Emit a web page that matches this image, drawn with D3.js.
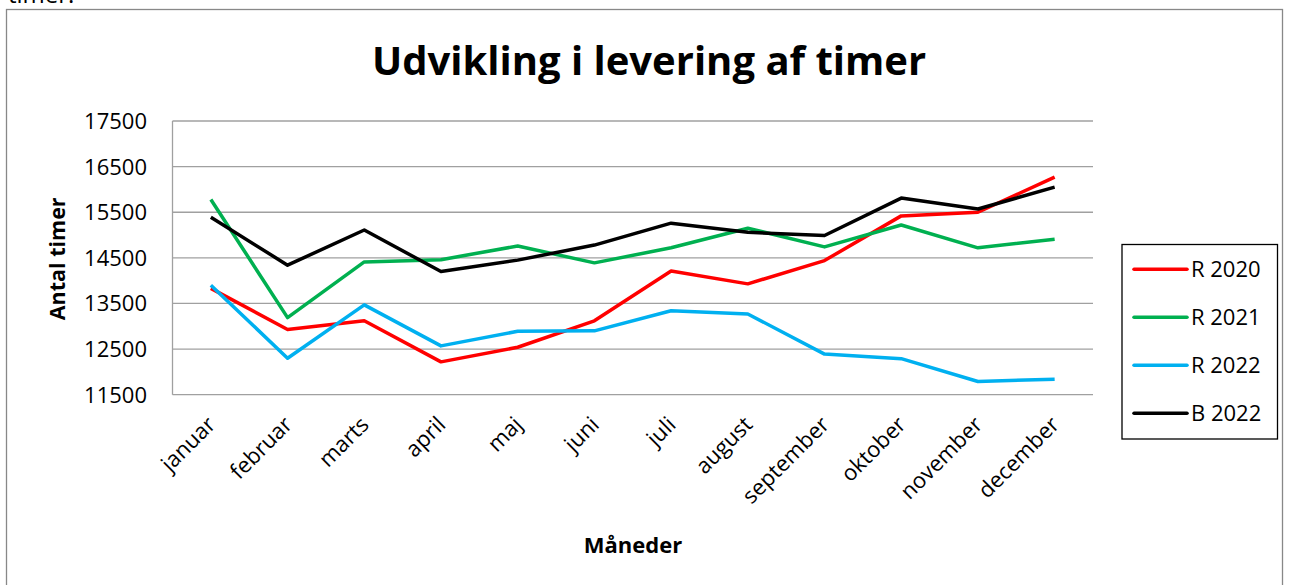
<!DOCTYPE html>
<html>
<head>
<meta charset="utf-8">
<script src="https://cdn.jsdelivr.net/npm/d3@7"></script>
<style>
  body { margin: 0; background: #fff; }
  text { font-family: "Open Sans", "DejaVu Sans", sans-serif; fill: #000; }
</style>
</head>
<body>
<svg id="chart" width="1292" height="585"></svg>
<script>
const months = ["januar","februar","marts","april","maj","juni","juli","august","september","oktober","november","december"]
const r2020 = [13830, 12930, 13120, 12220, 12540, 13120, 14210, 13930, 14440, 15420, 15500, 16270]
const r2021 = [15780, 13190, 14410, 14460, 14760, 14390, 14720, 15150, 14740, 15220, 14720, 14910]
const r2022 = [13900, 12300, 13470, 12570, 12890, 12900, 13340, 13270, 12390, 12290, 11790, 11840]
const b2022 = [15390, 14340, 15110, 14200, 14450, 14780, 15260, 15060, 14990, 15810, 15570, 16050]
const yTicks = [11500, 12500, 13500, 14500, 15500, 16500, 17500]

const series = [
  {name: "R 2020", values: r2020, color: "#ff0000"},
  {name: "R 2021", values: r2021, color: "#00b050"},
  {name: "R 2022", values: r2022, color: "#00b0f0"},
  {name: "B 2022", values: b2022, color: "#000000"}
]

const svg = d3.select("#chart")
const margin = {top: 121, left: 172.5, right: 1093, bottom: 394.7}

// outer frame (cut off at bottom)
svg.append("rect").attr("x", 6.5).attr("y", 9.5).attr("width", 1276).attr("height", 600)
   .attr("fill", "none").attr("stroke", "#888").attr("stroke-width", 1.3)

// leftover text from the page above
svg.append("text").text("timer.").attr("x", 8).attr("y", 3).style("font-size", "24px")

svg.append("text").text("Udvikling i levering af timer")
   .attr("x", 649).attr("y", 75).attr("text-anchor", "middle")
   .style("font-size", "40px").style("font-weight", "bold")

const x = d3.scalePoint().domain(months).range([margin.left, margin.right]).padding(0.5)
const y = d3.scaleLinear().domain([11500, 17500]).range([margin.bottom, margin.top])

// gridlines
svg.append("g").selectAll("line").data(yTicks).join("line")
   .attr("x1", margin.left).attr("x2", margin.right)
   .attr("y1", d => y(d)).attr("y2", d => y(d))
   .attr("stroke", "#a0a0a0").attr("stroke-width", 1.3)

svg.append("line").attr("x1", margin.left).attr("x2", margin.left)
   .attr("y1", margin.top).attr("y2", margin.bottom)
   .attr("stroke", "#a0a0a0").attr("stroke-width", 1.3)

// y tick labels
svg.append("g").selectAll("text").data(yTicks).join("text")
   .text(d => d)
   .attr("x", 147).attr("y", d => y(d) + 8)
   .attr("text-anchor", "end").style("font-size", "22px")

// x tick labels
svg.append("g").selectAll("text").data(months).join("text")
   .text(d => d)
   .attr("text-anchor", "end")
   .attr("transform", d => `translate(${x(d) + 6}, ${426}) rotate(-45)`)
   .style("font-size", "22px")

svg.append("text").text("Antal timer")
   .attr("transform", `translate(65, ${(margin.top + margin.bottom) / 2 + 1}) rotate(-90)`)
   .attr("text-anchor", "middle").style("font-size", "21.5px").style("font-weight", "bold")

svg.append("text").text("Måneder")
   .attr("x", 633).attr("y", 553).attr("text-anchor", "middle")
   .style("font-size", "22px").style("font-weight", "bold")

const line = d3.line().x((d, i) => x(months[i])).y(d => y(d))

svg.append("g").selectAll("path").data(series).join("path")
   .attr("d", d => line(d.values))
   .attr("fill", "none").attr("stroke", d => d.color)
   .attr("stroke-width", 3.5).attr("stroke-linejoin", "round")

// legend
const legend = svg.append("g")
legend.append("rect").attr("x", 1122).attr("y", 244.5).attr("width", 155.5).attr("height", 194.5)
   .attr("fill", "#fff").attr("stroke", "#000").attr("stroke-width", 1.3)

const items = legend.selectAll("g.item").data(series).join("g").attr("class", "item")
   .attr("transform", (d, i) => `translate(0, ${269.3 + i * 48})`)
items.append("line").attr("x1", 1134).attr("x2", 1187).attr("y1", 0).attr("y2", 0)
   .attr("stroke", d => d.color).attr("stroke-width", 3.5).attr("stroke-linecap", "round")
items.append("text").text(d => d.name).attr("x", 1191).attr("y", 8).style("font-size", "22px")
</script>
</body>
</html>
